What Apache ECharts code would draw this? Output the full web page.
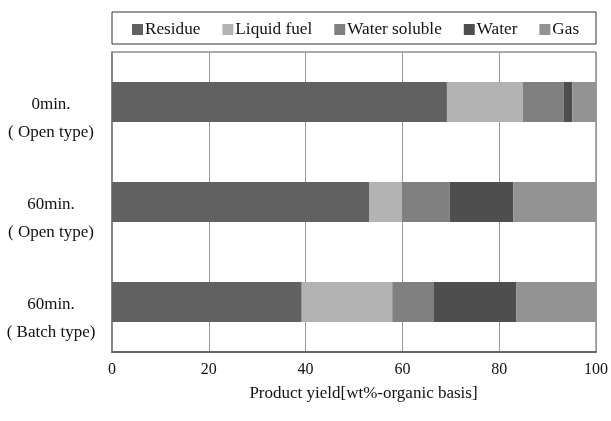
<!DOCTYPE html>
<html>
<head>
<meta charset="utf-8">
<script src="https://cdn.jsdelivr.net/npm/echarts@6/dist/echarts.min.js"></script>
<style>
  html, body { margin: 0; padding: 0; background: #fff; }
  #chart { width: 611px; height: 421px; }
</style>
</head>
<body>
<div id="chart"></div>
<script>
const categories = ["0min.\n( Open type)", "60min.\n( Open type)", "60min.\n( Batch type)"];
const residue = [69.2, 53.2, 39.2];
const liquidFuel = [15.7, 6.7, 18.7];
const waterSoluble = [8.4, 9.9, 8.5];
const water = [1.8, 13.1, 17.1];
const gas = [4.9, 17.1, 16.5];
const xTicks = [0, 20, 40, 60, 80, 100];

const font = "Liberation Serif";
const chart = echarts.init(document.getElementById("chart"));

const mkSeries = (name, data, color) => ({
  name: name,
  type: "bar",
  stack: "total",
  data: data,
  barWidth: 40,
  itemStyle: { color: color },
});

chart.setOption({
  animation: false,
  textStyle: { fontFamily: font, color: "#111" },
  graphic: [
    {
      type: "rect",
      shape: { x: 112, y: 12, width: 484, height: 32 },
      style: { fill: "none", stroke: "#333", lineWidth: 1 },
    },
  ],
  legend: {
    left: 132,
    top: 21,
    padding: 0,
    icon: "rect",
    itemWidth: 11,
    itemHeight: 11,
    itemGap: 22,
    textStyle: { fontFamily: font, fontSize: 17.2, color: "#111", padding: [0, 0, 0, -3] },
    data: ["Residue", "Liquid fuel", "Water soluble", "Water", "Gas"],
  },
  grid: {
    left: 112,
    right: 14,
    top: 52,
    bottom: 69,
    show: true,
    borderColor: "#555",
    borderWidth: 1,
  },
  xAxis: {
    type: "value",
    min: 0,
    max: 100,
    interval: 20,
    name: "Product yield[wt%-organic basis]",
    nameLocation: "middle",
    nameGap: 33,
    nameTextStyle: { fontFamily: font, fontSize: 17, color: "#111", padding: [0, 0, 0, 19] },
    axisLine: { show: true, lineStyle: { color: "#666", width: 2 } },
    axisTick: { show: false },
    axisLabel: {
      margin: 10,
      fontFamily: font,
      fontSize: 16,
      color: "#111",
      formatter: (v) => (xTicks.indexOf(v) >= 0 ? String(v) : ""),
    },
    splitLine: { show: true, lineStyle: { color: "#999", width: 1 } },
  },
  yAxis: {
    type: "category",
    inverse: true,
    data: categories,
    axisLine: { show: true, lineStyle: { color: "#888", width: 2 } },
    axisTick: { show: false },
    axisLabel: {
      align: "center",
      margin: 61,
      color: "#111",
      verticalAlign: "middle",
      // blank first line pushes the two text lines below the bar centre
      formatter: (v) => "{gap|}\n" + v.split("\n").map((s) => "{t|" + s + "}").join("\n"),
      rich: {
        gap: { lineHeight: 34, fontSize: 17, fontFamily: font },
        t: { lineHeight: 28, fontSize: 17, fontFamily: font, color: "#111", align: "center" },
      },
    },
  },
  series: [
    mkSeries("Residue", residue, "#616161"),
    mkSeries("Liquid fuel", liquidFuel, "#b3b3b3"),
    mkSeries("Water soluble", waterSoluble, "#808080"),
    mkSeries("Water", water, "#4e4e4e"),
    mkSeries("Gas", gas, "#939393"),
  ],
});
</script>
</body>
</html>
